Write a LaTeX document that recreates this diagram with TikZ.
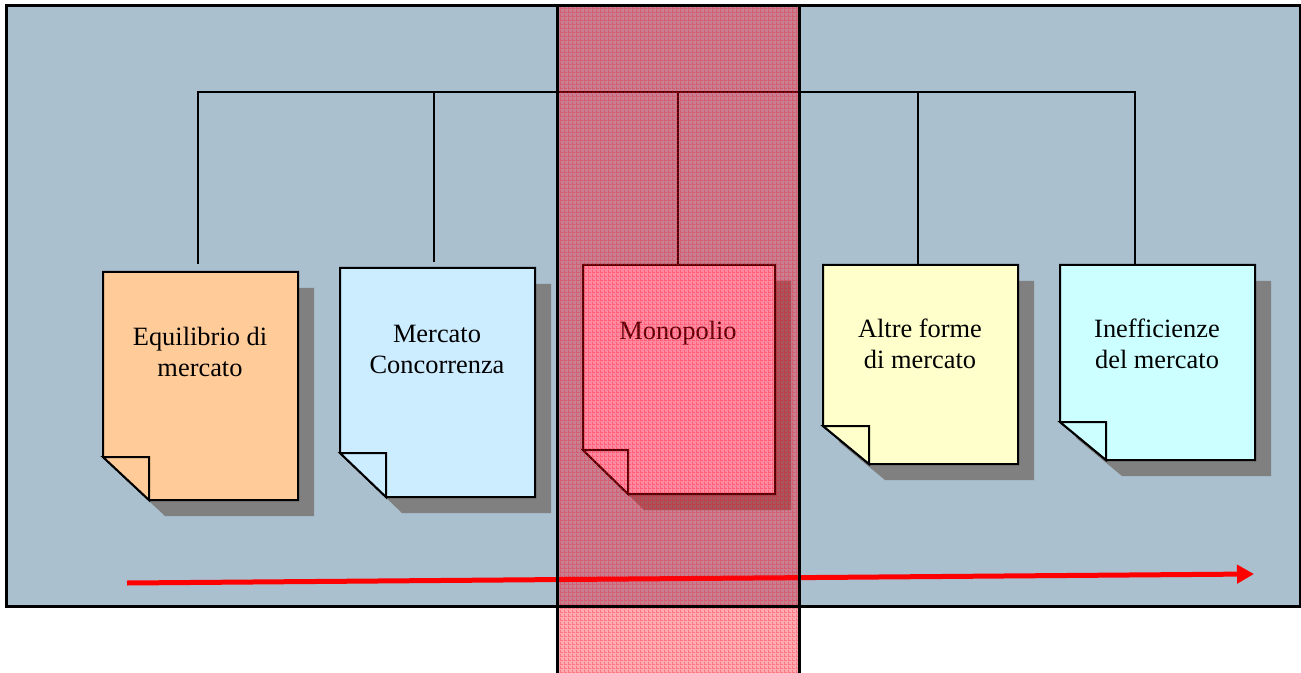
\documentclass[tikz,border=0pt]{standalone}
\usepackage{fontspec}
\setmainfont{Liberation Serif}
\usetikzlibrary{arrows.meta,patterns}

\definecolor{panel}{RGB}{170,192,207}
\definecolor{dropgray}{RGB}{128,128,128}
\definecolor{pgorange}{RGB}{255,204,153}
\definecolor{pgblue}{RGB}{204,236,255}
\definecolor{pgpink}{RGB}{255,205,230}
\definecolor{pgyellow}{RGB}{255,255,204}
\definecolor{pgcyan}{RGB}{204,255,255}
\definecolor{bandred}{RGB}{255,0,20}
\definecolor{arrowred}{RGB}{255,0,0}

% check texture laid over the highlighted column
\pgfdeclarepatternformonly{plaid}{\pgfqpoint{0pt}{0pt}}{\pgfqpoint{3pt}{3pt}}{\pgfqpoint{3pt}{3pt}}{%
  \pgfpathrectangle{\pgfqpoint{0pt}{0pt}}{\pgfqpoint{3pt}{0.9pt}}%
  \pgfpathrectangle{\pgfqpoint{0pt}{0pt}}{\pgfqpoint{0.9pt}{3pt}}%
  \pgfusepath{fill}}

\tikzset{
  frame/.style={line width=2.25pt},
  conn/.style={line width=1.5pt, line join=miter},
  sheet/.style={line width=1.5pt, line join=miter},
  label/.style={anchor=base, inner sep=0pt, font=\fontsize{19.8pt}{23.25pt}\selectfont},
  trend/.style={arrowred, line width=3.75pt, -{Triangle[length=12.75pt,width=13.5pt]}},
}

% sheet of paper with a folded bottom-left corner and a drop shadow
% #1 left, #2 top, #3 right, #4 bottom, #5 fold x, #6 fold y, #7 fill
\newcommand\docsheet[7]{%
  \fill[dropgray, shift={(16,16)}] (#1,#2) -- (#3,#2) -- (#3,#4) -- (#5,#4) -- (#1,#6) -- cycle;
  \draw[sheet, fill=#7] (#1,#2) -- (#3,#2) -- (#3,#4) -- (#5,#4) -- (#1,#6) -- cycle;
  \draw[sheet, fill=#7] (#1,#6) -- (#5,#6) -- (#5,#4) -- cycle;
}

\begin{document}
\begin{tikzpicture}[x=0.75pt, y=-0.75pt]
  \useasboundingbox (0,0) rectangle (1301,673);

  % background panel
  \fill[panel] (6,6) rectangle (1300,606);

  % sheets
  \docsheet{103}{272}{298}{500}{149}{457}{pgorange}
  \docsheet{340}{268}{535}{497}{386}{453}{pgblue}
  \docsheet{583}{265}{775}{494}{628}{450}{pgpink}
  \docsheet{823}{265}{1018}{464}{869}{426}{pgyellow}
  \docsheet{1060}{265}{1255}{460}{1106}{422}{pgcyan}

  % sheet labels
  \node[label] (t1) at (200,345) {\begin{tabular}[t]{@{}c@{}}Equilibrio di\\mercato\end{tabular}};
  \node[label] (t2) at (437,342) {\begin{tabular}[t]{@{}c@{}}Mercato\\Concorrenza\end{tabular}};
  \node[label] (t3) at (678,339) {Monopolio};
  \node[label] (t4) at (920,337) {\begin{tabular}[t]{@{}c@{}}Altre forme\\di mercato\end{tabular}};
  \node[label] (t5) at (1157,337) {\begin{tabular}[t]{@{}c@{}}Inefficienze\\del mercato\end{tabular}};

  % connector tree
  \coordinate (h1) at (198,92);
  \coordinate (h2) at (434,92);
  \coordinate (h3) at (678,92);
  \coordinate (h4) at (918,92);
  \coordinate (h5) at (1135,92);
  \coordinate (s1) at (198,264);
  \coordinate (s2) at (434,262);
  \coordinate (s3) at (678,265);
  \coordinate (s4) at (918,265);
  \coordinate (s5) at (1135,265);
  \draw[conn] (s1) -- (h1) -- (h5) -- (s5);
  \draw[conn] (h2) -- (s2);
  \draw[conn] (h3) -- (s3);
  \draw[conn] (h4) -- (s4);

  % progression arrow
  \coordinate (as) at (127,583);
  \coordinate (ae) at (1254,574);
  \draw[trend] (as) -- (ae);

  % highlighted column
  \fill[bandred, fill opacity=0.33] (557,6) rectangle (799,673);
  \fill[pattern=plaid, pattern color=bandred, fill opacity=0.3] (557,6) rectangle (799,673);

  % outlines
  \draw[frame] (6,6) rectangle (1300,606);
  \draw[frame] (557,6) -- (557,673);
  \draw[frame] (799,6) -- (799,673);
\end{tikzpicture}
\end{document}
